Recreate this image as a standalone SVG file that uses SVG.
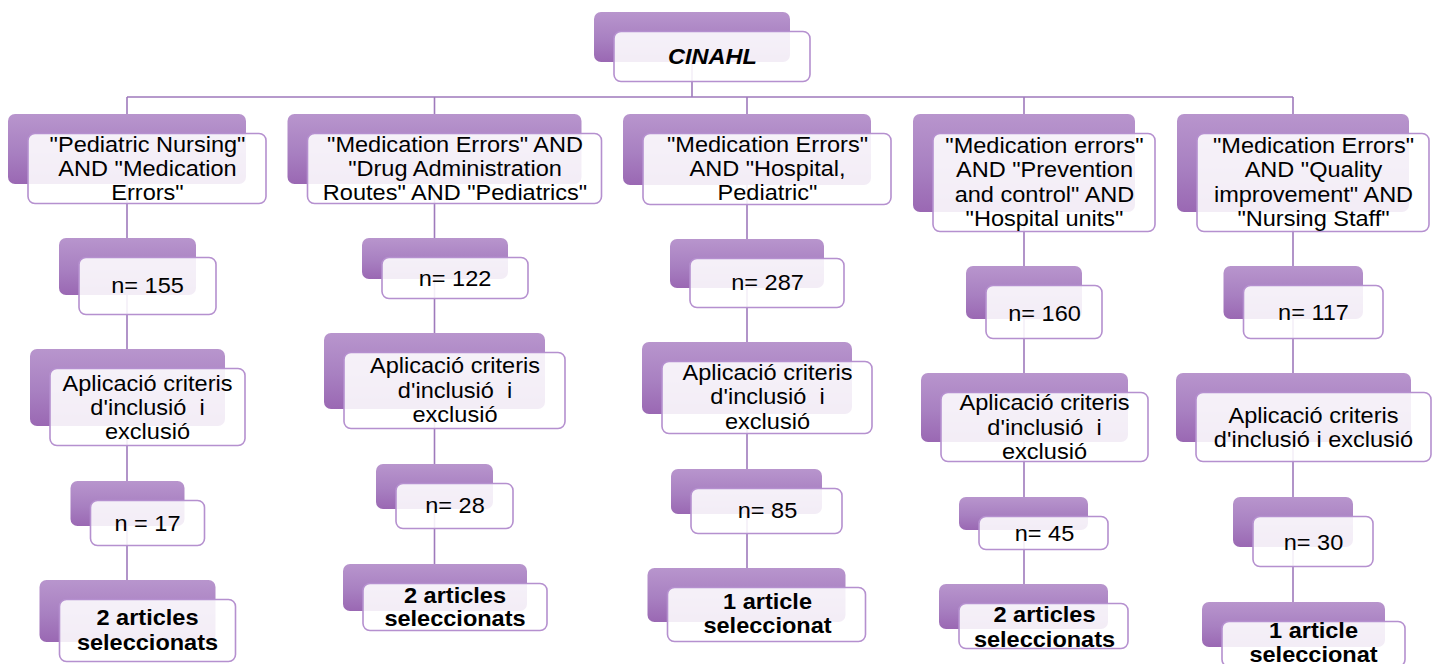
<svg xmlns="http://www.w3.org/2000/svg" width="1436" height="664" viewBox="0 0 1436 664">
<defs>
<linearGradient id="g" x1="0" y1="0" x2="0" y2="1">
<stop offset="0" stop-color="#b895cd"/>
<stop offset="0.55" stop-color="#a880c1"/>
<stop offset="1" stop-color="#9a68b3"/>
</linearGradient>
<style>
.bk{fill:url(#g);}
.fr{fill:#ffffff;fill-opacity:0.88;stroke:#b590cf;stroke-width:1.6;}
.ln{stroke:#9f7abc;stroke-width:1.6;fill:none;}
.t{font-family:"Liberation Sans",Arial,sans-serif;font-size:22px;text-anchor:middle;fill:#000;}
.b{font-weight:bold;}
.bi{font-weight:bold;font-style:italic;}
</style>
</defs>
<rect width="1436" height="664" fill="#ffffff"/>
<g id="connectors">
<path class="ln" d="M692 62V97M127 97H1293M127 97V580M434.5 97V564M747 97V568M1024 97V584M1293 97V602"/>
</g>
<g id="cinahl">
<rect class="bk" x="594" y="12" width="196" height="50" rx="7"/>
<rect class="fr" x="614" y="31.5" width="196" height="50" rx="7"/>
<text class="t bi" transform="matrix(1.07 0 0 1 712.5 0)" x="0" y="64">CINAHL</text>
</g>
<g id="c1a">
<rect class="bk" x="8" y="114" width="238" height="70" rx="7"/>
<rect class="fr" x="28" y="133.5" width="238" height="70" rx="7"/>
<text class="t" transform="matrix(1.07 0 0 1 147.5 0)"><tspan x="0" y="152">"Pediatric Nursing"</tspan><tspan x="0" y="176">AND "Medication</tspan><tspan x="0" y="200">Errors"</tspan></text>
</g>
<g id="c1b">
<rect class="bk" x="59" y="238" width="137" height="57" rx="7"/>
<rect class="fr" x="79" y="257.5" width="137" height="57" rx="7"/>
<text class="t" transform="matrix(1.07 0 0 1 147.5 0)" x="0" y="293">n= 155</text>
</g>
<g id="c1c">
<rect class="bk" x="30" y="349" width="195" height="77" rx="7"/>
<rect class="fr" x="50" y="368.5" width="195" height="77" rx="7"/>
<text class="t" transform="matrix(1.07 0 0 1 147.5 0)"><tspan x="0" y="391">Aplicació criteris</tspan><tspan x="0" y="415">d'inclusió&#160; i</tspan><tspan x="0" y="439">exclusió</tspan></text>
</g>
<g id="c1d">
<rect class="bk" x="70.5" y="481" width="114" height="45" rx="7"/>
<rect class="fr" x="90.5" y="500.5" width="114" height="45" rx="7"/>
<text class="t" transform="matrix(1.07 0 0 1 147.5 0)" x="0" y="531">n = 17</text>
</g>
<g id="c1e">
<rect class="bk" x="39.5" y="580" width="176" height="62" rx="7"/>
<rect class="fr" x="59.5" y="599.5" width="176" height="62" rx="7"/>
<text class="t b" transform="matrix(1.07 0 0 1 147.5 0)"><tspan x="0" y="625">2 articles</tspan><tspan x="0" y="650">seleccionats</tspan></text>
</g>
<g id="c2a">
<rect class="bk" x="287.5" y="114" width="294" height="70" rx="7"/>
<rect class="fr" x="307.5" y="133.5" width="294" height="70" rx="7"/>
<text class="t" transform="matrix(1.07 0 0 1 455 0)"><tspan x="0" y="152">"Medication Errors" AND</tspan><tspan x="0" y="176">"Drug Administration</tspan><tspan x="0" y="200">Routes" AND "Pediatrics"</tspan></text>
</g>
<g id="c2b">
<rect class="bk" x="362" y="238" width="146" height="41" rx="7"/>
<rect class="fr" x="382" y="257.5" width="146" height="41" rx="7"/>
<text class="t" transform="matrix(1.07 0 0 1 455 0)" x="0" y="286">n= 122</text>
</g>
<g id="c2c">
<rect class="bk" x="324" y="333" width="221" height="76" rx="7"/>
<rect class="fr" x="344" y="352.5" width="221" height="76" rx="7"/>
<text class="t" transform="matrix(1.07 0 0 1 455 0)"><tspan x="0" y="373">Aplicació criteris</tspan><tspan x="0" y="398">d'inclusió&#160; i</tspan><tspan x="0" y="422">exclusió</tspan></text>
</g>
<g id="c2d">
<rect class="bk" x="376" y="464" width="117" height="45" rx="7"/>
<rect class="fr" x="396" y="483.5" width="117" height="45" rx="7"/>
<text class="t" transform="matrix(1.07 0 0 1 455 0)" x="0" y="513">n= 28</text>
</g>
<g id="c2e">
<rect class="bk" x="343" y="564" width="184" height="47" rx="7"/>
<rect class="fr" x="363" y="583.5" width="184" height="47" rx="7"/>
<text class="t b" transform="matrix(1.07 0 0 1 455 0)"><tspan x="0" y="603">2 articles</tspan><tspan x="0" y="626">seleccionats</tspan></text>
</g>
<g id="c3a">
<rect class="bk" x="623" y="114" width="248" height="71" rx="7"/>
<rect class="fr" x="643" y="133.5" width="248" height="71" rx="7"/>
<text class="t" transform="matrix(1.07 0 0 1 767.5 0)"><tspan x="0" y="152">"Medication Errors"</tspan><tspan x="0" y="176">AND "Hospital,</tspan><tspan x="0" y="200">Pediatric"</tspan></text>
</g>
<g id="c3b">
<rect class="bk" x="670" y="239" width="154" height="49" rx="7"/>
<rect class="fr" x="690" y="258.5" width="154" height="49" rx="7"/>
<text class="t" transform="matrix(1.07 0 0 1 767.5 0)" x="0" y="290">n= 287</text>
</g>
<g id="c3c">
<rect class="bk" x="642" y="342" width="210" height="72" rx="7"/>
<rect class="fr" x="662" y="361.5" width="210" height="72" rx="7"/>
<text class="t" transform="matrix(1.07 0 0 1 767.5 0)"><tspan x="0" y="380">Aplicació criteris</tspan><tspan x="0" y="404">d'inclusió&#160; i</tspan><tspan x="0" y="429">exclusió</tspan></text>
</g>
<g id="c3d">
<rect class="bk" x="671" y="469" width="151" height="45" rx="7"/>
<rect class="fr" x="691" y="488.5" width="151" height="45" rx="7"/>
<text class="t" transform="matrix(1.07 0 0 1 767.5 0)" x="0" y="518">n= 85</text>
</g>
<g id="c3e">
<rect class="bk" x="647.5" y="568" width="198" height="54" rx="7"/>
<rect class="fr" x="667.5" y="587.5" width="198" height="54" rx="7"/>
<text class="t b" transform="matrix(1.07 0 0 1 767.5 0)"><tspan x="0" y="609">1 article</tspan><tspan x="0" y="633">seleccionat</tspan></text>
</g>
<g id="c4a">
<rect class="bk" x="913" y="114" width="222" height="98" rx="7"/>
<rect class="fr" x="933" y="133.5" width="222" height="98" rx="7"/>
<text class="t" transform="matrix(1.07 0 0 1 1044.5 0)"><tspan x="0" y="153">"Medication errors"</tspan><tspan x="0" y="177.5">AND "Prevention</tspan><tspan x="0" y="202">and control" AND</tspan><tspan x="0" y="226.5">"Hospital units"</tspan></text>
</g>
<g id="c4b">
<rect class="bk" x="966" y="266" width="116" height="53" rx="7"/>
<rect class="fr" x="986" y="285.5" width="116" height="53" rx="7"/>
<text class="t" transform="matrix(1.07 0 0 1 1044.5 0)" x="0" y="321">n= 160</text>
</g>
<g id="c4c">
<rect class="bk" x="921" y="373" width="207" height="69" rx="7"/>
<rect class="fr" x="941" y="392.5" width="207" height="69" rx="7"/>
<text class="t" transform="matrix(1.07 0 0 1 1044.5 0)"><tspan x="0" y="410">Aplicació criteris</tspan><tspan x="0" y="435">d'inclusió&#160; i</tspan><tspan x="0" y="459">exclusió</tspan></text>
</g>
<g id="c4d">
<rect class="bk" x="959" y="497" width="129" height="33" rx="7"/>
<rect class="fr" x="979" y="516.5" width="129" height="33" rx="7"/>
<text class="t" transform="matrix(1.07 0 0 1 1044.5 0)" x="0" y="541">n= 45</text>
</g>
<g id="c4e">
<rect class="bk" x="939" y="584" width="169" height="45" rx="7"/>
<rect class="fr" x="959" y="603.5" width="169" height="45" rx="7"/>
<text class="t b" transform="matrix(1.07 0 0 1 1044.5 0)"><tspan x="0" y="622">2 articles</tspan><tspan x="0" y="647">seleccionats</tspan></text>
</g>
<g id="c5a">
<rect class="bk" x="1177" y="114" width="232" height="98" rx="7"/>
<rect class="fr" x="1197" y="133.5" width="232" height="98" rx="7"/>
<text class="t" transform="matrix(1.07 0 0 1 1313.5 0)"><tspan x="0" y="153">"Medication Errors"</tspan><tspan x="0" y="177.5">AND "Quality</tspan><tspan x="0" y="202">improvement" AND</tspan><tspan x="0" y="226.5">"Nursing Staff"</tspan></text>
</g>
<g id="c5b">
<rect class="bk" x="1223.5" y="266" width="139.5" height="53" rx="7"/>
<rect class="fr" x="1243.5" y="285.5" width="139.5" height="53" rx="7"/>
<text class="t" transform="matrix(1.07 0 0 1 1313.5 0)" x="0" y="320">n= 117</text>
</g>
<g id="c5c">
<rect class="bk" x="1176" y="373" width="235" height="69" rx="7"/>
<rect class="fr" x="1196" y="392.5" width="235" height="69" rx="7"/>
<text class="t" transform="matrix(1.07 0 0 1 1313.5 0)"><tspan x="0" y="423">Aplicació criteris</tspan><tspan x="0" y="447">d'inclusió i exclusió</tspan></text>
</g>
<g id="c5d">
<rect class="bk" x="1233" y="497" width="120" height="50" rx="7"/>
<rect class="fr" x="1253" y="516.5" width="120" height="50" rx="7"/>
<text class="t" transform="matrix(1.07 0 0 1 1313.5 0)" x="0" y="550">n= 30</text>
</g>
<g id="c5e">
<rect class="bk" x="1202" y="602" width="183" height="45" rx="7"/>
<rect class="fr" x="1222" y="621.5" width="183" height="45" rx="7"/>
<text class="t b" transform="matrix(1.07 0 0 1 1313.5 0)"><tspan x="0" y="638">1 article</tspan><tspan x="0" y="662">seleccionat</tspan></text>
</g>
</svg>
